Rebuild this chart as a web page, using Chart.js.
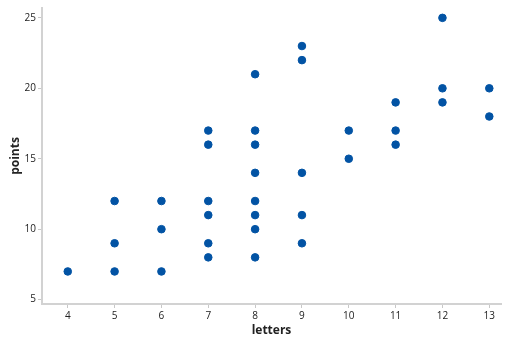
<!DOCTYPE html>
<html>
<head>
<meta charset="utf-8">
<script src="https://cdn.jsdelivr.net/npm/chart.js@4"></script>
<style>
  html, body { margin: 0; padding: 0; background: #fff; }
  #wrap { width: 512px; height: 338px; }
</style>
</head>
<body>
<div id="wrap"><canvas id="chart" width="512" height="338"></canvas></div>
<script>
// data
const letters = [4, 5, 5, 5, 6, 6, 6, 7, 7, 7, 7, 7, 7, 8, 8, 8, 8, 8, 8, 8, 8, 9, 9, 9, 9, 9, 10, 10, 11, 11, 11, 12, 12, 12, 13, 13];
const points  = [7, 12, 9, 7, 12, 10, 7, 17, 16, 12, 11, 9, 8, 21, 17, 16, 14, 12, 11, 10, 8, 23, 22, 14, 11, 9, 17, 15, 19, 17, 16, 25, 20, 19, 20, 18];
const xTicks = [4, 5, 6, 7, 8, 9, 10, 11, 12, 13];
const yTicks = [5, 10, 15, 20, 25];

const font = "'Open Sans', 'Noto Sans', sans-serif";

const ctx = document.getElementById('chart').getContext('2d');
new Chart(ctx, {
    type: 'scatter',
    data: {
        datasets: [{
            data: letters.map((x, i) => ({ x: x, y: points[i] })),
            backgroundColor: '#0253a4',
            borderColor: '#0253a4',
            pointRadius: 3.8,
            pointHoverRadius: 3.8
        }]
    },
    options: {
        responsive: false,
        animation: false,
        layout: { padding: { top: 6, right: 11, left: 0, bottom: 0 } },
        plugins: { legend: { display: false }, tooltip: { enabled: false } },
        scales: {
            x: {
                type: 'linear',
                min: 3.45,
                max: 13.25,
                afterBuildTicks: s => { s.ticks = xTicks.map(v => ({ value: v })); },
                afterFit: s => { s.height = 34; },
                grid: { drawOnChartArea: false, drawTicks: true, tickLength: 4, color: '#c8c8c8' },
                border: { color: '#d2d2d2', width: 2 },
                ticks: { color: '#222', font: { family: font, size: 10 }, padding: 2 },
                title: { display: true, text: 'letters', color: '#222', font: { family: font, size: 12, weight: 'bold' }, padding: { top: 2, bottom: 0 } }
            },
            y: {
                min: 4.69,
                max: 25.7,
                afterBuildTicks: s => { s.ticks = yTicks.map(v => ({ value: v })); },
                afterFit: s => { s.width = 42; },
                grid: { drawOnChartArea: false, drawTicks: true, tickLength: 4, color: '#c8c8c8' },
                border: { color: '#d2d2d2', width: 2 },
                ticks: { color: '#222', font: { family: font, size: 10 }, padding: 2 },
                title: { display: true, text: 'points', color: '#222', font: { family: font, size: 12, weight: 'bold' }, padding: { top: 8, bottom: 0 } }
            }
        }
    }
});
</script>
</body>
</html>
